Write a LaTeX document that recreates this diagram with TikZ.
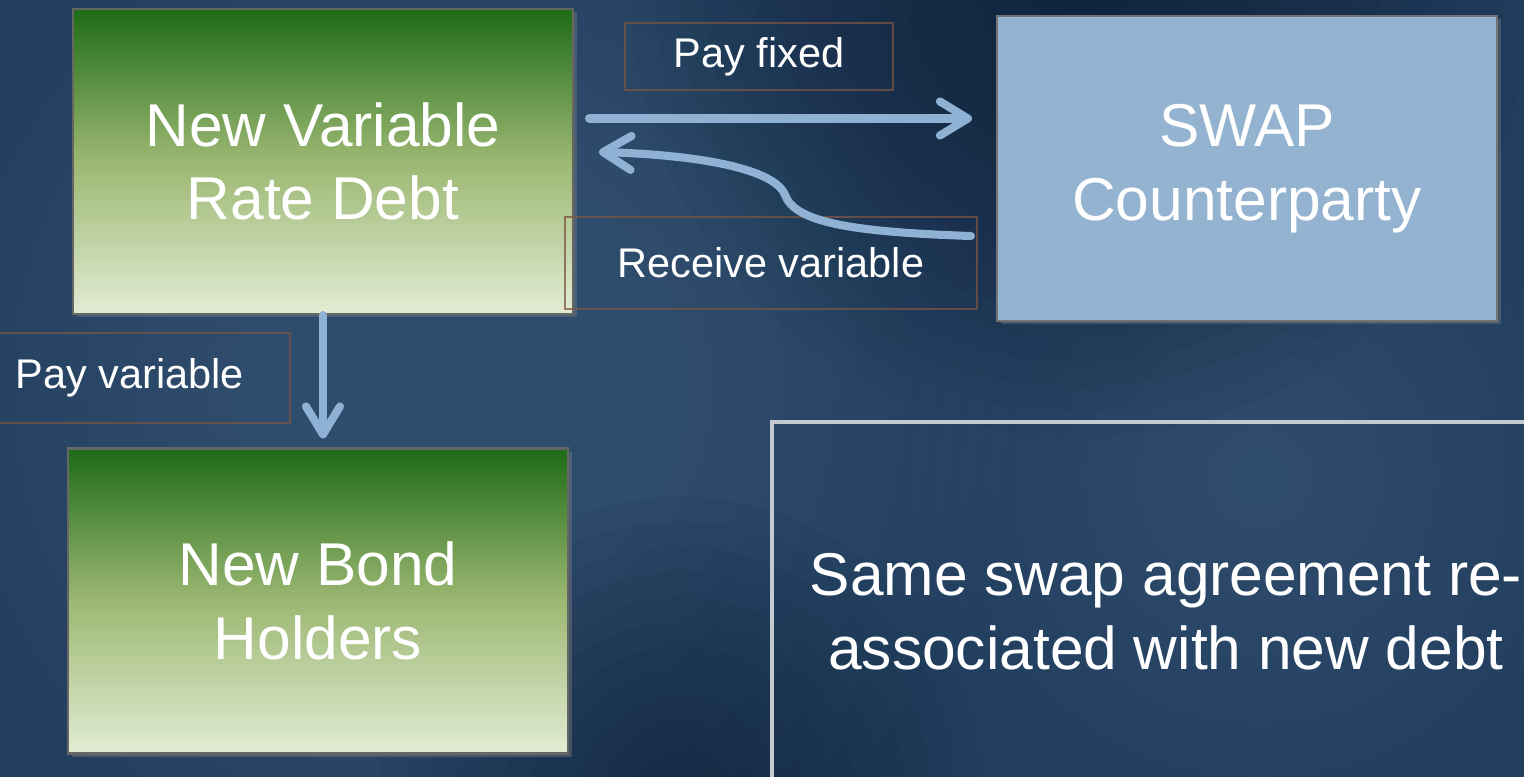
\documentclass[tikz,border=0pt]{standalone}
\usepackage{fontspec}
\setmainfont{Liberation Sans}
\usepackage{tikz}
\usetikzlibrary{arrows.meta,calc,positioning,shadows}
\definecolor{bgBase}{HTML}{213E5E}
\definecolor{bgLight}{HTML}{4A6888}
\definecolor{bgDark}{HTML}{0A1A2E}
\definecolor{greenTop}{HTML}{1E6B16}
\definecolor{greenMid}{HTML}{9CB872}
\definecolor{greenBot}{HTML}{E2ECD4}
\definecolor{swapBlue}{HTML}{93B3D1}
\definecolor{flowBlue}{HTML}{8FB1D3}
\definecolor{labelEdge}{HTML}{7C5444}
\definecolor{noteEdge}{HTML}{C5CAD0}

\begin{document}
\begin{tikzpicture}[x=1cm,y=1cm,
    partybox/.style={minimum width=5cm,minimum height=3.05cm,align=center,
      text=white,font=\fontsize{17.2}{21}\selectfont,draw=black!60,line width=0.6pt,
      drop shadow={opacity=0.4,shadow xshift=0.35mm,shadow yshift=-0.35mm}},
    greenbox/.style={partybox,top color=greenTop,bottom color=greenBot,middle color=greenMid},
    flowlbl/.style={draw=labelEdge,draw opacity=0.75,line width=0.3pt,text=white,
      font=\fontsize{11.8}{14}\selectfont},
    flow/.style={draw=flowBlue,line width=2.3pt,line cap=round,
      -{Straight Barb[round,length=2.8mm,width=3.4mm]}}]

    % background
    \useasboundingbox (0,0) rectangle (15.24,7.77);
    \clip (0,0) rectangle (15.24,7.77);
    \fill[bgBase] (0,0) rectangle (15.24,7.77);
    \foreach \r in {0.25,0.5,...,5.5}
      \fill[bgLight,opacity=0.035] (4.6,3.9) circle (\r);
    \foreach \r in {0.25,0.5,...,3.5}
      \fill[bgLight,opacity=0.035] (12.6,3.0) circle (\r);
    \foreach \r in {0.25,0.5,...,4.5}
      \fill[bgDark,opacity=0.045] (10.8,7.9) circle (\r);
    \foreach \r in {0.25,0.5,...,3}
      \fill[bgDark,opacity=0.05] (6.8,-0.2) circle (\r);

    % parties
    \node[greenbox] (debt) at (3.23,6.155) {New Variable\\Rate Debt};
    \node[greenbox] (bond) at (3.18,1.76) {New Bond\\Holders};
    \node[partybox,fill=swapBlue,draw=black!55] (swap) at (12.47,6.085)
      {SWAP\\Counterparty};

    \node[draw=noteEdge,line width=1.4pt,minimum width=7.88cm,minimum height=3.8cm,
      align=center,text=white,font=\fontsize{17.2}{21}\selectfont]
      (note) at (11.66,1.65) {Same swap agreement re-\\associated with new debt};

    % payment labels
    \node[flowlbl,minimum width=2.68cm,minimum height=0.67cm] (fixedlbl)
      at (7.59,7.205) {Pay fixed};
    \node[flowlbl,minimum width=4.12cm,minimum height=0.92cm] (recvlbl)
      at (7.71,5.14) {Receive variable};
    \node[flowlbl,minimum width=3.2cm,minimum height=0.9cm] (payvarlbl)
      at (1.3,3.99) {Pay variable};

    % payments
    \coordinate (fixA) at ($(debt.east)+(0,0.43)$);
    \draw[flow,shorten <=1.5mm,shorten >=2.4mm] (fixA) -- (fixA -| swap.west);
    \draw[flow] ($(swap.west)+(-0.25,-0.675)$)
      .. controls (8.5,5.45) and (7.95,5.55) .. (7.85,5.82)
      .. controls (7.75,6.08) and (7.0,6.22) .. ($(debt.east)+(0.25,0.095)$);
    \draw[flow,shorten >=0.9mm] (debt.south) -- (debt.south |- bond.north);
  \end{tikzpicture}
\end{document}
